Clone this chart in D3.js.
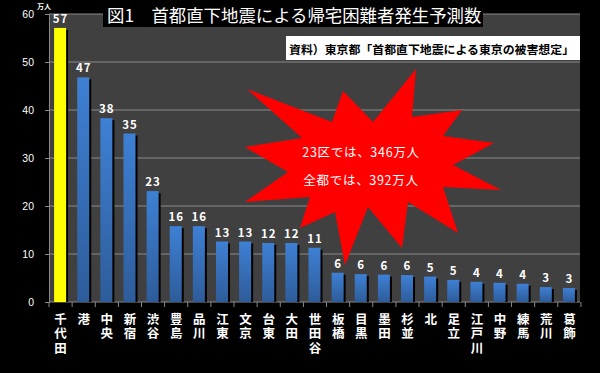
<!DOCTYPE html>
<html>
<head>
<meta charset="utf-8">
<script src="https://cdn.jsdelivr.net/npm/d3@7"></script>
<style>
body{margin:0;background:#000;}
svg{display:block;}
text{font-family:"Noto Sans CJK JP","Noto Sans",sans-serif;}
</style>
</head>
<body>
<svg id="chart" width="600" height="373"></svg>
<script>
// 区別の帰宅困難者（万人）
var wards = ["千代田","港","中央","新宿","渋谷","豊島","品川","江東","文京","台東","大田","世田谷",
             "板橋","目黒","墨田","杉並","北","足立","江戸川","中野","練馬","荒川","葛飾"];
var values = [57.1,46.8,38.3,35.1,23.1,15.8,15.8,12.6,12.6,12.3,12.3,11.3,
              6.1,5.8,5.7,5.6,5.3,4.6,4.2,4.0,3.8,3.1,2.9];
var highlight = "千代田";
var yTicks = [0,10,20,30,40,50,60];
var yUnit = "万人";
var title = "図1　首都直下地震による帰宅困難者発生予測数";
var source = "資料）東京都「首都直下地震による東京の被害想定」";
var starText = ["23区では、346万人","全都では、392万人"];
// 吹き出し（爆発形）の頂点
var starPoints = [[247,89],[332,122],[343,91],[373,122],[416,69],[412,117],[462,110],[443,136],
                  [494,143],[453,165],[501,190],[443,187],[458,233],[408,202],[402,248],[368,207],
                  [345,265],[335,212],[300,228],[310,197],[245,202],[288,172],[245,147],[302,138]];

var margin = {top: 14, right: 20, bottom: 71, left: 49},
    width = 600 - margin.left - margin.right,
    height = 373 - margin.top - margin.bottom;

var svg = d3.select("#chart");

var x = d3.scaleBand().domain(wards).range([0, width]).paddingInner(0.48).paddingOuter(0.22);
var y = d3.scaleLinear().domain([0, 60]).range([height, 0]);

var defs = svg.append("defs");
var grad = defs.append("linearGradient").attr("id","barGrad")
  .attr("x1",0).attr("y1",0).attr("x2",0).attr("y2",1);
grad.append("stop").attr("offset","0%").attr("stop-color","#3e80d4");
grad.append("stop").attr("offset","100%").attr("stop-color","#2e5c9a");

var g = svg.append("g").attr("transform","translate(" + margin.left + "," + margin.top + ")");

// plot area
g.append("rect").attr("width", width).attr("height", height).attr("fill","#404040");

// grid
g.append("g").selectAll("line")
  .data(yTicks.filter(function(d){return d > 0;}))
  .enter().append("line")
  .attr("x1",0).attr("x2",width)
  .attr("y1",function(d){return y(d);}).attr("y2",function(d){return y(d);})
  .attr("stroke","#8a8a8a").attr("stroke-width",1);

// y axis
var yAxis = g.append("g")
  .call(d3.axisLeft(y).tickValues(yTicks).tickSize(4).tickPadding(11));
yAxis.select(".domain").attr("stroke","#8a8a8a");
yAxis.selectAll(".tick line").attr("stroke","#8a8a8a");
yAxis.selectAll("text").attr("fill","#fff").style("font-size","10.5px")
  .style("font-family","'Liberation Sans',sans-serif");

g.append("text").attr("x",-5).attr("y",-5).attr("text-anchor","middle")
  .attr("fill","#fff").style("font-size","7px").style("font-weight","bold").text(yUnit);

// x axis
g.append("line").attr("x1",0).attr("x2",width).attr("y1",height).attr("y2",height)
  .attr("stroke","#8a8a8a");
g.append("g").selectAll("line")
  .data(d3.range(wards.length + 1))
  .enter().append("line")
  .attr("x1",function(i){return i * x.step();}).attr("x2",function(i){return i * x.step();})
  .attr("y1",height).attr("y2",height + 5)
  .attr("stroke","#8a8a8a");

// bars
var bars = g.append("g").selectAll("g")
  .data(wards)
  .enter().append("g");

bars.append("rect")
  .attr("x",function(d){return x(d) + 2;})
  .attr("y",function(d,i){return y(values[i]) + 2;})
  .attr("width",x.bandwidth())
  .attr("height",function(d,i){return height - y(values[i]) - 2;})
  .attr("fill","#000");

bars.append("rect")
  .attr("x",function(d){return x(d);})
  .attr("y",function(d,i){return y(values[i]);})
  .attr("width",x.bandwidth())
  .attr("height",function(d,i){return height - y(values[i]);})
  .attr("fill",function(d){return d == highlight ? "#ffff00" : "url(#barGrad)";});

bars.append("text")
  .attr("x",function(d){return x(d) + x.bandwidth()/2 + 0.5;})
  .attr("y",function(d,i){return y(values[i]) - 5;})
  .attr("text-anchor","middle")
  .attr("fill","#fff")
  .style("font-size","11.5px").style("font-weight","bold").style("letter-spacing","1px")
  .text(function(d,i){return d3.format(".0f")(values[i]);});

// category labels, written vertically
g.append("g").selectAll("text")
  .data(wards)
  .enter().append("text")
  .attr("x",function(d){return x(d) + x.bandwidth()/2 + 0.5;})
  .attr("y",height + 10.5)
  .style("writing-mode","vertical-rl")
  .style("text-orientation","upright")
  .style("letter-spacing","2.2px")
  .attr("fill","#fff")
  .style("font-size","12.5px").style("font-weight","bold")
  .text(function(d){return d;});

// explosion callout
svg.append("polygon")
  .attr("points", starPoints.map(function(p){return p.join(",");}).join(" "))
  .attr("fill","#ff0000");

svg.append("g").selectAll("text")
  .data(starText)
  .enter().append("text")
  .attr("x",361)
  .attr("y",function(d,i){return 151 + i * 28.5;})
  .attr("dominant-baseline","central")
  .attr("text-anchor","middle")
  .attr("fill","#fff")
  .style("font-size","12.5px").style("letter-spacing","0.7px")
  .text(function(d){return d;});

// title
svg.append("rect").attr("x",103).attr("y",0).attr("width",380).attr("height",27).attr("fill","#000");
svg.append("text").attr("x",107).attr("y",14)
  .attr("dominant-baseline","central")
  .attr("fill","#fff")
  .style("font-size","17.4px")
  .text(title);

// source box
svg.append("rect").attr("x",286).attr("y",36).attr("width",294).attr("height",24).attr("fill","#fff");
svg.append("text").attr("x",289).attr("y",48)
  .attr("dominant-baseline","central")
  .attr("fill","#000")
  .style("font-size","11.9px").style("font-weight","bold")
  .text(source);
</script>
</body>
</html>
